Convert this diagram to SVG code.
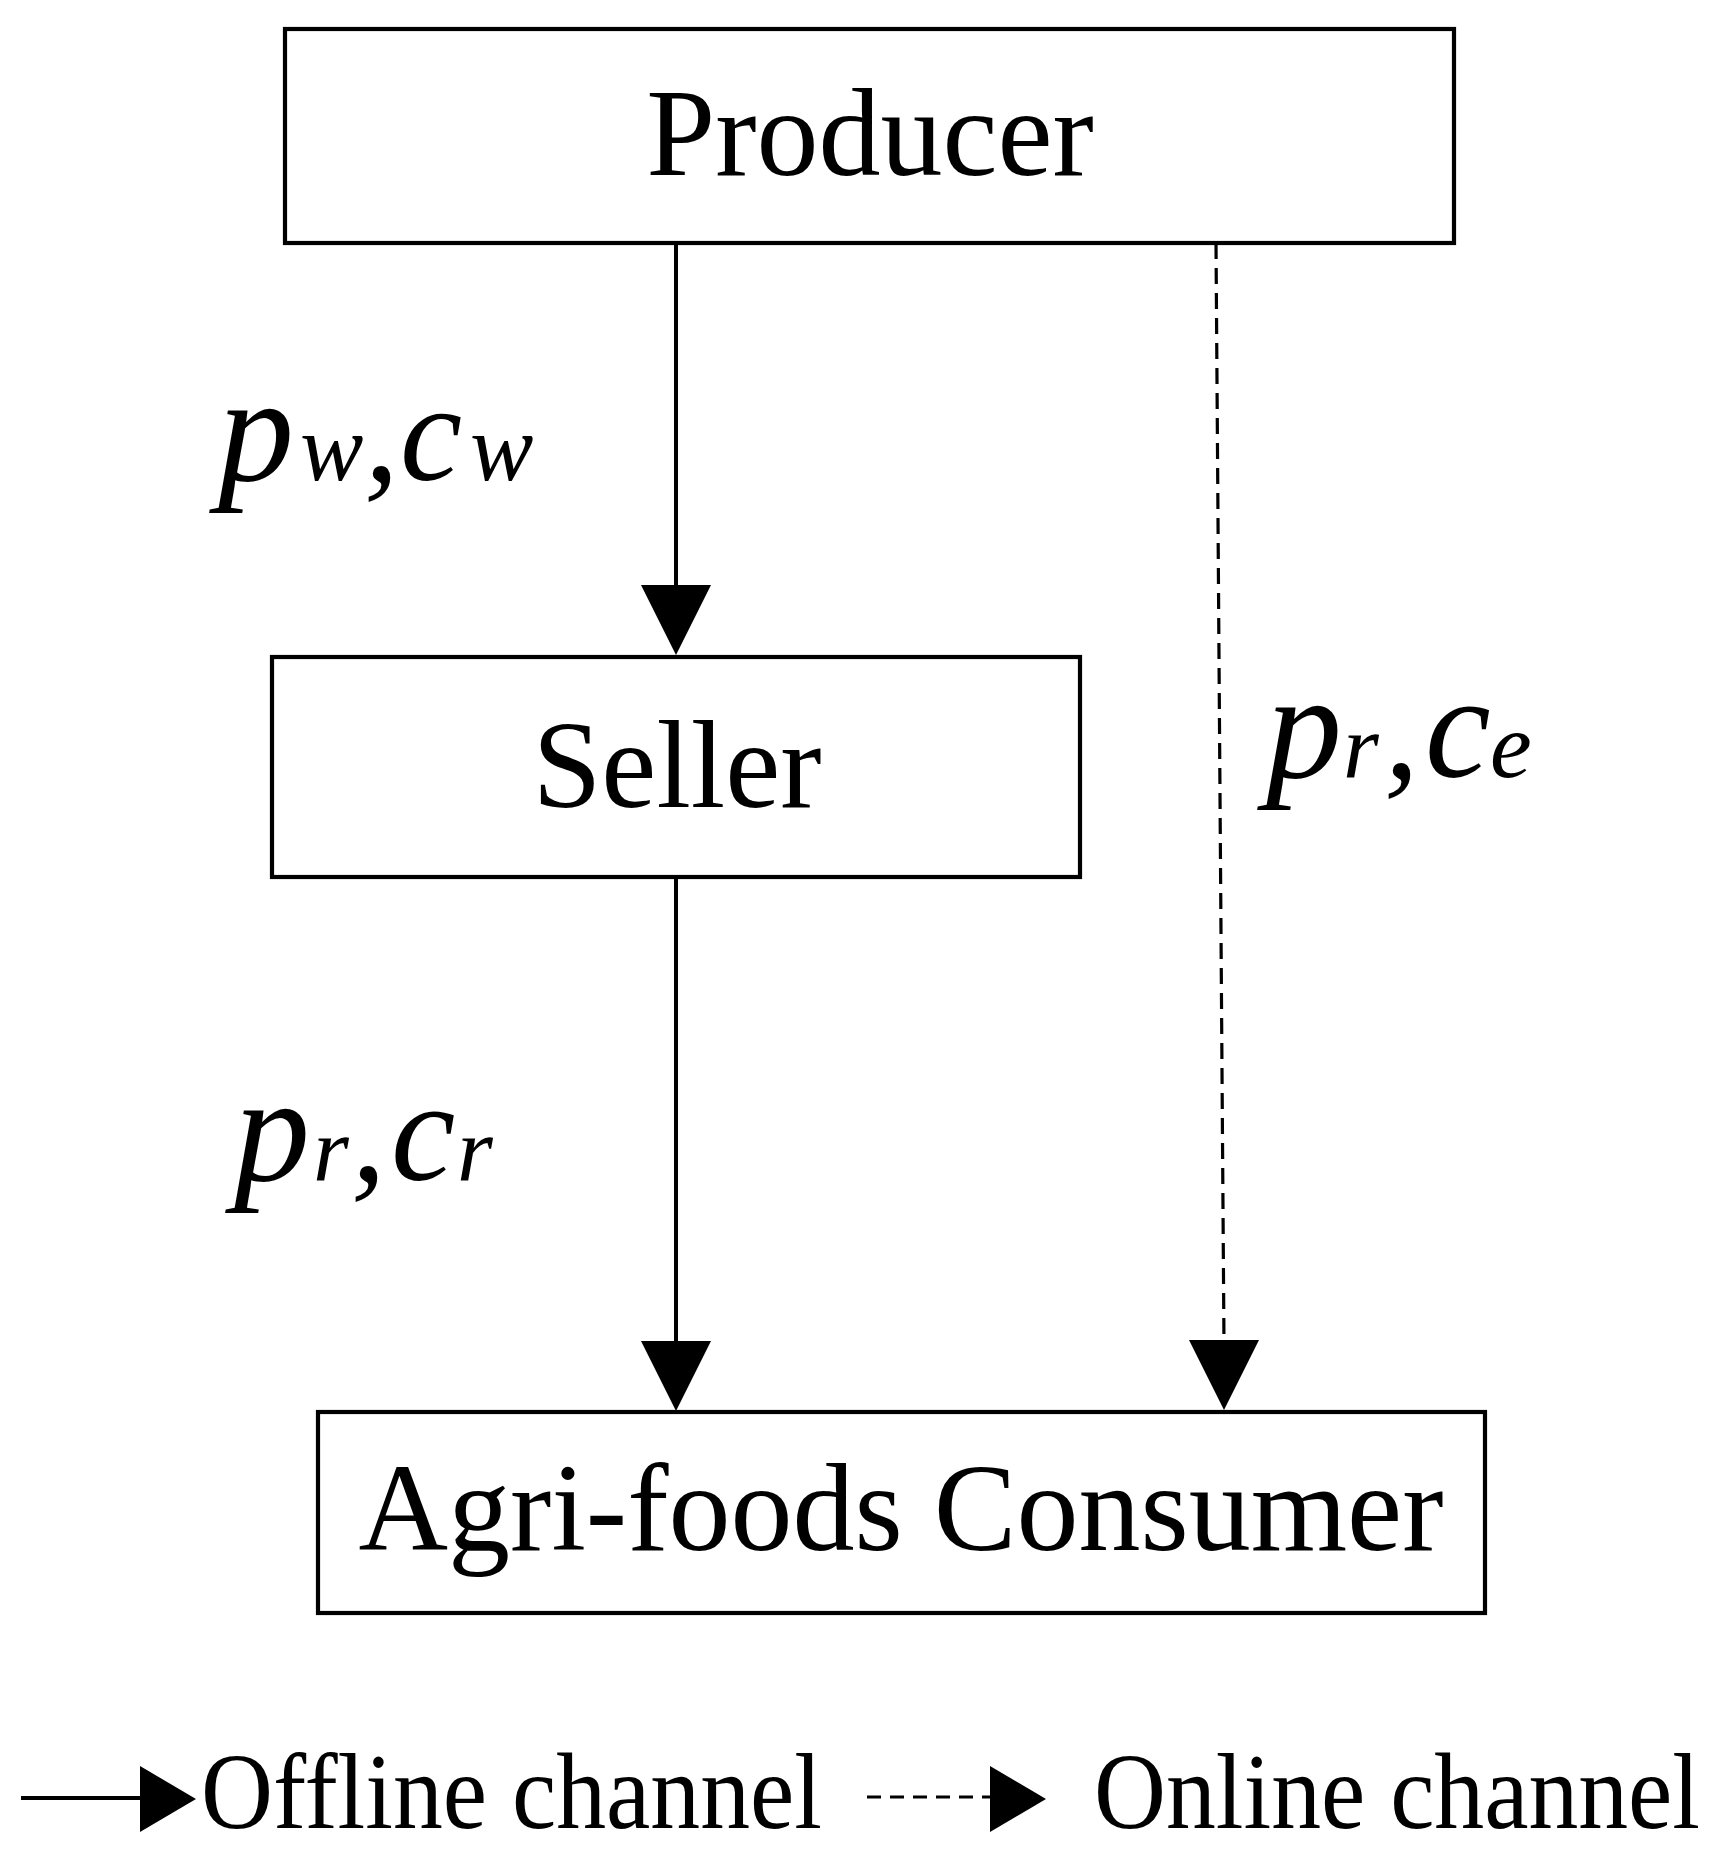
<svg xmlns="http://www.w3.org/2000/svg" width="1723" height="1857" viewBox="0 0 1723 1857">
<style>
.box{fill:#fff;stroke:#000;stroke-width:4.2}
.node{font-family:"Liberation Serif","Times New Roman",serif;font-size:124px;fill:#000;text-anchor:middle}
.lab{font-family:"Liberation Serif","Times New Roman",serif;font-style:italic;fill:#000}
.leg{font-family:"Liberation Serif","Times New Roman",serif;font-size:107px;fill:#000}
.solid{stroke:#000;stroke-width:4;fill:none}
.dash{stroke:#000;stroke-width:3.2;fill:none;stroke-dasharray:16 9}
.head{fill:#000}
</style>
<rect width="1723" height="1857" fill="#fff"/>
<g id="producer">
<rect class="box" x="285" y="29" width="1169" height="214"/>
<text class="node" x="870" y="175">Producer</text>
</g>
<g id="seller">
<rect class="box" x="272" y="657" width="808" height="220"/>
<text class="node" x="677" y="807">Seller</text>
</g>
<g id="consumer">
<rect class="box" x="318" y="1412" width="1167" height="201"/>
<text class="node" x="901" y="1550">Agri-foods Consumer</text>
</g>
<g id="connectors">
<line class="solid" x1="676" y1="243" x2="676" y2="590"/>
<polygon class="head" points="641,585 711,585 676,655"/>
<line class="solid" x1="676" y1="877" x2="676" y2="1345"/>
<polygon class="head" points="641,1341 711,1341 676,1411"/>
<line class="dash" x1="1216" y1="243" x2="1224" y2="1345"/>
<polygon class="head" points="1189,1340 1259,1340 1224,1410"/>
</g>
<g id="labels">
<text class="lab" y="480"><tspan x="218" font-size="152">p</tspan><tspan x="300" font-size="95">w</tspan><tspan x="364" font-size="140">,</tspan><tspan x="400" font-size="140">c</tspan><tspan x="470" font-size="95">w</tspan></text>
<text class="lab" y="777"><tspan x="1266" font-size="152">p</tspan><tspan x="1343" font-size="92">r</tspan><tspan x="1384" font-size="140">,</tspan><tspan x="1425" font-size="148">c</tspan><tspan x="1490" font-size="94">e</tspan></text>
<text class="lab" y="1180"><tspan x="234" font-size="152">p</tspan><tspan x="313" font-size="92">r</tspan><tspan x="351" font-size="140">,</tspan><tspan x="391" font-size="145">c</tspan><tspan x="457" font-size="92">r</tspan></text>
</g>
<g id="legend">
<line class="solid" x1="21" y1="1798" x2="142" y2="1798" stroke-width="4"/>
<polygon class="head" points="140,1766 196,1799 140,1832"/>
<text class="leg" x="201" y="1828" textLength="621" lengthAdjust="spacingAndGlyphs">Offline channel</text>
<line class="dash" x1="867" y1="1797" x2="990" y2="1797" style="stroke-dasharray:14 9"/>
<polygon class="head" points="990,1766 1046,1799 990,1832"/>
<text class="leg" x="1094" y="1828" textLength="606" lengthAdjust="spacingAndGlyphs">Online channel</text>
</g>
</svg>
